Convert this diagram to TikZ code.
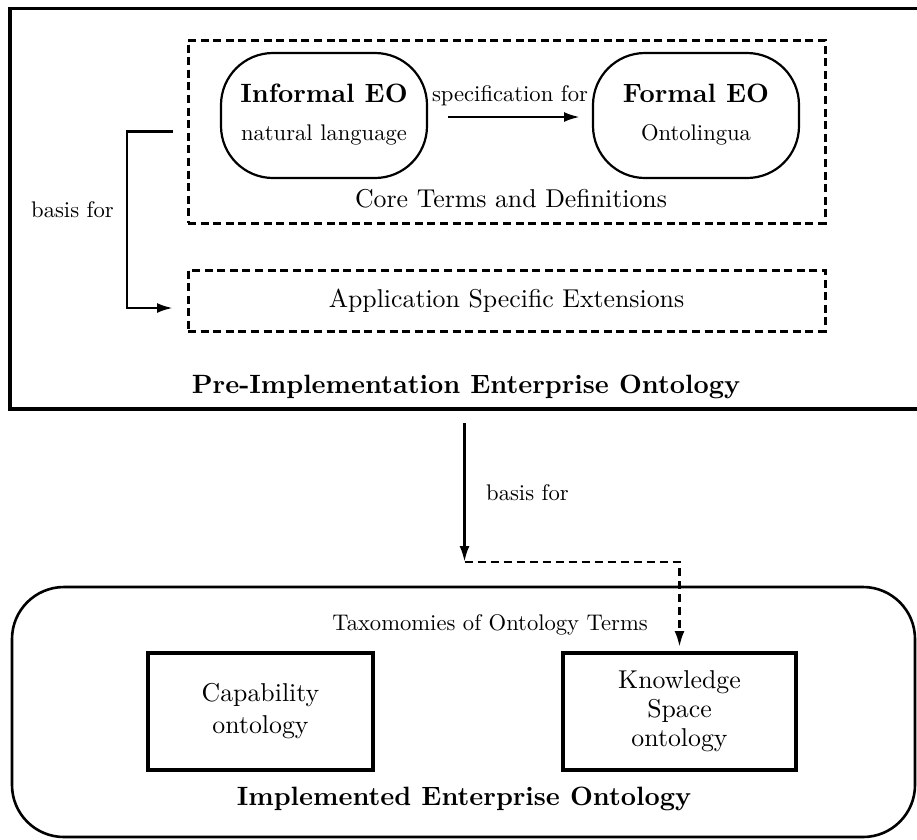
\documentclass[tikz,border=0pt]{standalone}
\usepackage{fontspec}
\setmainfont{lmroman10-regular}[Extension=.otf, BoldFont=lmroman10-bold, ItalicFont=lmroman10-italic]
\usetikzlibrary{arrows.meta}
\newcommand\fsmall{\fontsize{22.6}{27}\selectfont}
\newcommand\flarge{\fontsize{25.8}{31}\selectfont}
\newcommand\fbold{\fontsize{26.5}{31}\selectfont\bfseries}
\tikzset{
  plainbox/.style={draw, rectangle, inner sep=0pt, outer sep=0pt, line width=3.2pt},
  dashbox/.style={draw, rectangle, inner sep=0pt, outer sep=0pt, line width=3pt, dash pattern=on 8pt off 4.6pt},
  roundbox/.style={draw, rectangle, rounded corners=52pt, inner sep=0pt, outer sep=0pt, line width=2.2pt},
  biground/.style={draw, rectangle, rounded corners=52pt, inner sep=0pt, outer sep=0pt, line width=2.6pt},
  txt/.style={inner sep=0pt, anchor=base},
  arr/.style={line width=2.7pt, -{Latex[length=16pt,width=10pt]}},
  dasharr/.style={line width=2.7pt, dash pattern=on 8pt off 5pt, -{Latex[length=16pt,width=10pt]}}
}
\begin{document}
\begin{tikzpicture}[x=1pt,y=-1pt]
\useasboundingbox (0,0) rectangle (917,839);
% top outer box
\node[plainbox, minimum width=909pt, minimum height=400.5pt] (pre) at (464.5,208.75) {};
\node[txt, font=\fbold] (pretitle) at (466,393) {Pre-Implementation Enterprise Ontology};
% core terms
\node[dashbox, minimum width=637pt, minimum height=183pt] (core) at (506.5,131.5) {};
\node[txt, font=\flarge] (coretitle) at (511,207) {Core Terms and Definitions};
\node[roundbox, minimum width=206pt, minimum height=125pt] (inf) at (324,115.5) {};
\node[txt, font=\fbold] (inf1) at (324,102) {Informal EO};
\node[txt, font=\fsmall] (inf2) at (324,140) {natural language};
\node[roundbox, minimum width=206pt, minimum height=125pt] (form) at (696,115.5) {};
\node[txt, font=\fbold] (form1) at (696,102) {Formal EO};
\node[txt, font=\fsmall] (form2) at (696,140) {Ontolingua};
\draw[arr] ([xshift=21pt,yshift=-1.5pt]inf.east) -- ([xshift=-13pt,yshift=-1.5pt]form.west);
\node[txt, font=\fsmall] (spec) at (510,101) {specification for};
% application box
\node[dashbox, minimum width=637pt, minimum height=61pt, font=\flarge] (app) at (506.5,300.5) {Application Specific Extensions};
% bracket
\draw[arr] ([xshift=-15pt]core.west) -- ++(-46,0) |- ([xshift=-15pt,yshift=-7.5pt]app.west);
\node[txt, font=\fsmall] (basis1) at (72.5,217) {basis for};
% bottom box
\node[biground, minimum width=903pt, minimum height=250pt] (impl) at (463.5,712) {};
\node[txt, font=\fsmall] (tax) at (490,630) {Taxomomies of Ontology Terms};
\node[plainbox, minimum width=225pt, minimum height=117pt, font=\flarge, align=center] (cap) at (260.5,711.5) {Capability\\[1pt]ontology};
\node[plainbox, minimum width=233pt, minimum height=117pt, font=\flarge, align=center] (know) at (679.5,711.5) {Knowledge\\[-2pt]Space\\[-2pt]ontology};
\node[txt, font=\fbold] (impltitle) at (464,805) {Implemented Enterprise Ontology};
% connectors between levels
\coordinate (m) at (464.5,562);
\draw[arr] ([yshift=-14pt]pre.south) -- (m);
\node[txt, font=\fsmall, anchor=base west] (basis2) at (486,500) {basis for};
\draw[dasharr] (m) -| ([yshift=6pt]know.north);
\end{tikzpicture}
\end{document}
